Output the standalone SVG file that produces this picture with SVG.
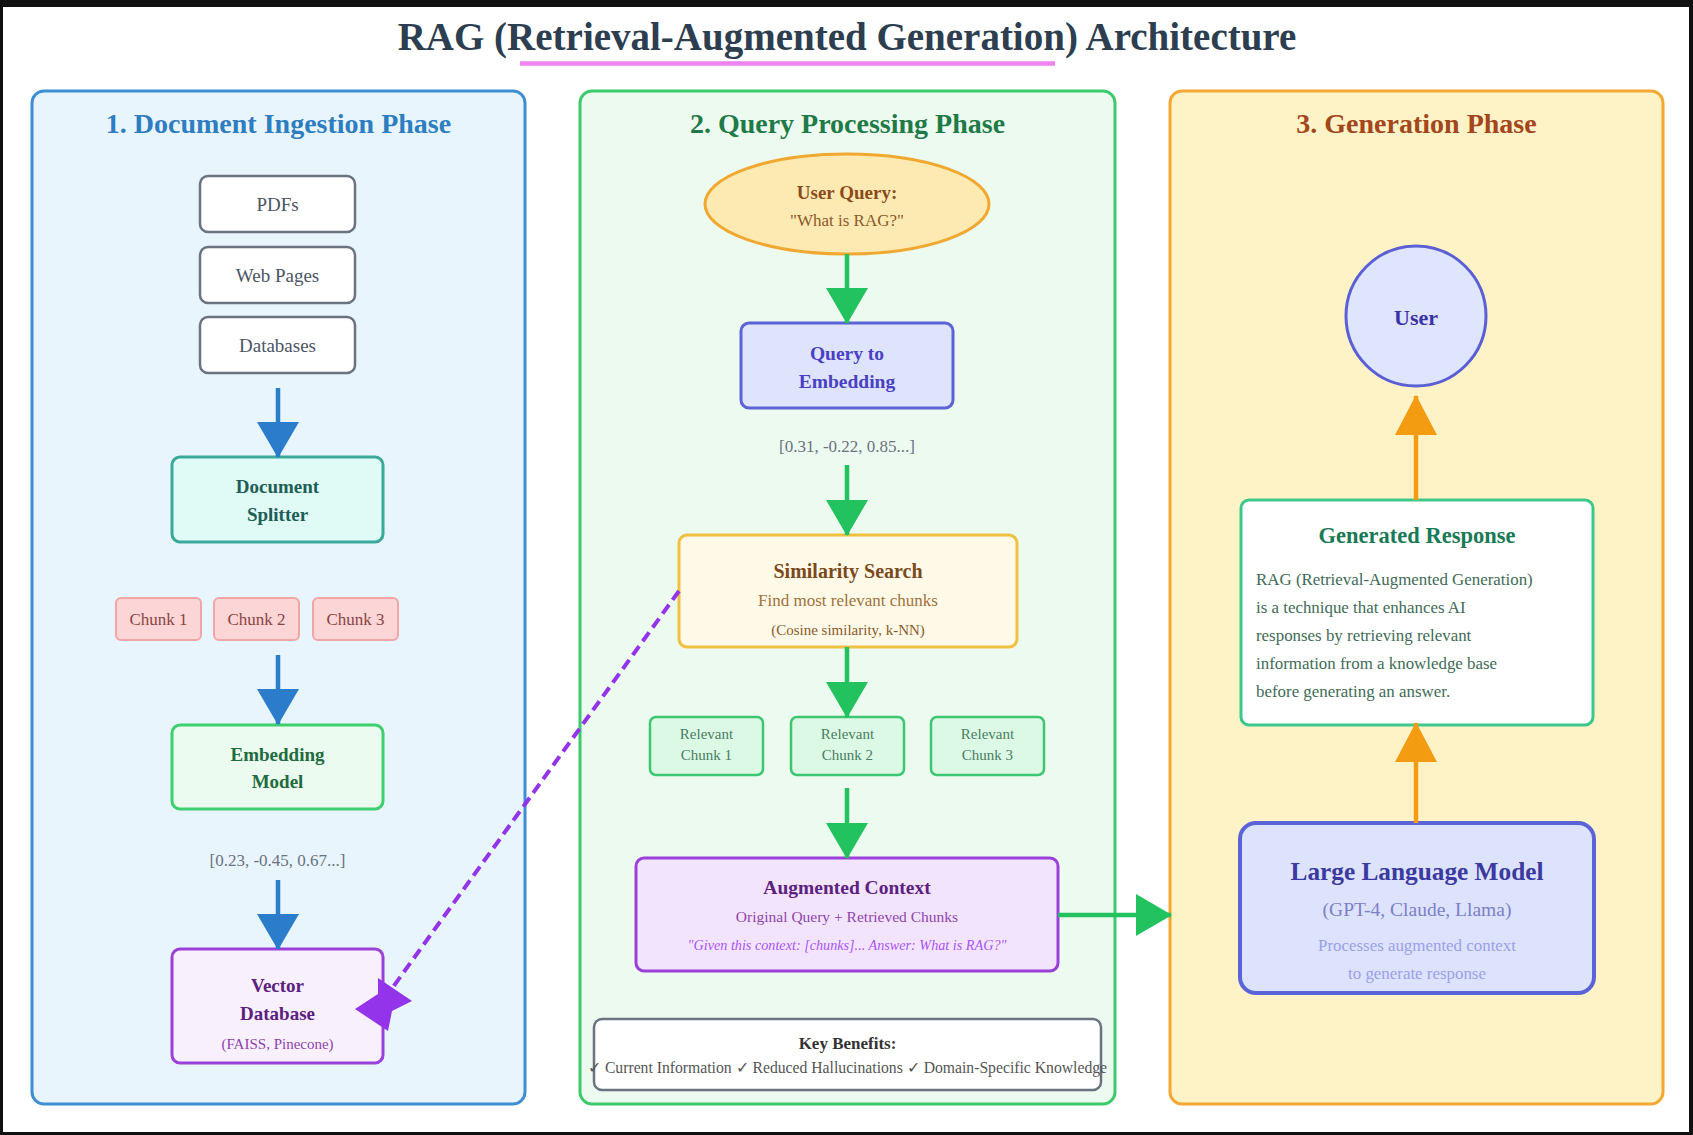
<svg xmlns="http://www.w3.org/2000/svg" width="1693" height="1135" viewBox="0 0 1693 1135">
<style>
text{font-family:"Liberation Serif","Times New Roman",serif;text-anchor:middle}
.b{font-weight:bold}
.panel{stroke-width:3}
.src rect{fill:#ffffff;stroke:#6b7280;stroke-width:2.5}
.src text{font-size:19px;fill:#4b5563}
.chunk rect{fill:#fcd6d6;stroke:#f2a5a5;stroke-width:2}
.chunk text{font-size:17px;fill:#8a4444}
.rel rect{fill:#dcf9e5;stroke:#3cc870;stroke-width:2.5}
.rel text{font-size:15px;fill:#4a7d63}
.vec{font-size:17px;fill:#6b7280}
.ab{stroke-width:4.5;fill:none}
.gr{font-size:16.9px;fill:#3f6b58;text-anchor:start}
</style>
<defs>
<marker id="hb" markerUnits="userSpaceOnUse" markerWidth="36" markerHeight="42" viewBox="0 0 36 42" refX="35" refY="21" orient="auto"><path d="M0,0 L36,21 L0,42 Z" fill="#2b7ccb"/></marker>
<marker id="hg" markerUnits="userSpaceOnUse" markerWidth="36" markerHeight="42" viewBox="0 0 36 42" refX="35" refY="21" orient="auto"><path d="M0,0 L36,21 L0,42 Z" fill="#22c25e"/></marker>
<marker id="ho" markerUnits="userSpaceOnUse" markerWidth="40" markerHeight="42" viewBox="0 0 40 42" refX="39" refY="21" orient="auto"><path d="M0,0 L40,21 L0,42 Z" fill="#f39c12"/></marker>
</defs>

<rect x="0" y="0" width="1693" height="1135" fill="#111111"/>
<rect x="3" y="7" width="1686" height="1125" fill="#ffffff"/>

<g id="title">
<text x="847" y="50" class="b" style="font-size:39px;fill:#2c3e50">RAG (Retrieval-Augmented Generation) Architecture</text>
<line x1="520" y1="63.5" x2="1055" y2="63.5" stroke="#ee82ee" stroke-width="4.5"/>
</g>

<g id="panel-ingestion">
<rect class="panel" x="32" y="91" width="493" height="1013" rx="12" fill="#e8f5fd" stroke="#3d8fd1"/>
<text x="278.5" y="133" class="b" style="font-size:28px;fill:#2e7dc1">1. Document Ingestion Phase</text>
</g>
<g id="panel-query">
<rect class="panel" x="580" y="91" width="535" height="1013" rx="12" fill="#edfaf0" stroke="#3ccb6c"/>
<text x="847.5" y="133" class="b" style="font-size:28px;fill:#1f7a48">2. Query Processing Phase</text>
</g>
<g id="panel-generation">
<rect class="panel" x="1170" y="91" width="493" height="1013" rx="12" fill="#fef3c7" stroke="#f2a833"/>
<text x="1416.5" y="133" class="b" style="font-size:28px;fill:#a3461c">3. Generation Phase</text>
</g>

<g id="pdfs" class="src"><rect x="200" y="176" width="155" height="56" rx="8"/><text x="277.5" y="210.5">PDFs</text></g>
<g id="webpages" class="src"><rect x="200" y="247" width="155" height="56" rx="8"/><text x="277.5" y="281.5">Web Pages</text></g>
<g id="databases" class="src"><rect x="200" y="317" width="155" height="56" rx="8"/><text x="277.5" y="351.5">Databases</text></g>

<g id="doc-splitter">
<rect x="172" y="457" width="211" height="85" rx="8" fill="#e0faf5" stroke="#3aa999" stroke-width="3"/>
<text x="277.5" y="493" class="b" style="font-size:19px;fill:#1e5e56">Document</text>
<text x="277.5" y="521" class="b" style="font-size:19px;fill:#1e5e56">Splitter</text>
</g>

<g id="chunk1" class="chunk"><rect x="116" y="598" width="85" height="42" rx="5"/><text x="158.5" y="625">Chunk 1</text></g>
<g id="chunk2" class="chunk"><rect x="214" y="598" width="85" height="42" rx="5"/><text x="256.5" y="625">Chunk 2</text></g>
<g id="chunk3" class="chunk"><rect x="313" y="598" width="85" height="42" rx="5"/><text x="355.5" y="625">Chunk 3</text></g>

<g id="embedding-model">
<rect x="172" y="725" width="211" height="84" rx="8" fill="#ecfbf0" stroke="#3ecf6e" stroke-width="3"/>
<text x="277.5" y="761" class="b" style="font-size:19px;fill:#226b3e">Embedding</text>
<text x="277.5" y="788" class="b" style="font-size:19px;fill:#226b3e">Model</text>
</g>

<g id="doc-vector"><text x="277.5" y="866" class="vec">[0.23, -0.45, 0.67...]</text></g>

<g id="vector-db">
<rect x="172" y="949" width="211" height="114" rx="8" fill="#f8f0fd" stroke="#9b40d8" stroke-width="3"/>
<text x="277.5" y="992" class="b" style="font-size:19px;fill:#5b2180">Vector</text>
<text x="277.5" y="1020" class="b" style="font-size:19px;fill:#5b2180">Database</text>
<text x="277.5" y="1049" style="font-size:15px;fill:#8e44ad">(FAISS, Pinecone)</text>
</g>

<g id="user-query">
<ellipse cx="847" cy="204" rx="142" ry="50" fill="#fdeab3" stroke="#f0a830" stroke-width="3"/>
<text x="847" y="198.5" class="b" style="font-size:19px;fill:#8b4a1c">User Query:</text>
<text x="847" y="226" style="font-size:17px;fill:#8b5a2b">"What is RAG?"</text>
</g>

<g id="query-embedding">
<rect x="741" y="323" width="212" height="85" rx="8" fill="#dde4fc" stroke="#5b63d6" stroke-width="3"/>
<text x="847" y="359.5" class="b" style="font-size:19.5px;fill:#4a3fc5">Query to</text>
<text x="847" y="387.5" class="b" style="font-size:19.5px;fill:#4a3fc5">Embedding</text>
</g>

<g id="query-vector"><text x="847" y="452" class="vec">[0.31, -0.22, 0.85...]</text></g>

<g id="similarity-search">
<rect x="679" y="535" width="338" height="112" rx="8" fill="#fffae8" stroke="#f0c040" stroke-width="3"/>
<text x="848" y="577.5" class="b" style="font-size:20px;fill:#7a4a1c">Similarity Search</text>
<text x="848" y="606" style="font-size:17px;fill:#a0703a">Find most relevant chunks</text>
<text x="848" y="634.5" style="font-size:15px;fill:#8b5a2b">(Cosine similarity, k-NN)</text>
</g>

<g id="relevant1" class="rel"><rect x="650" y="717" width="113" height="58" rx="6"/><text x="706.5" y="739">Relevant</text><text x="706.5" y="760">Chunk 1</text></g>
<g id="relevant2" class="rel"><rect x="791" y="717" width="113" height="58" rx="6"/><text x="847.5" y="739">Relevant</text><text x="847.5" y="760">Chunk 2</text></g>
<g id="relevant3" class="rel"><rect x="931" y="717" width="113" height="58" rx="6"/><text x="987.5" y="739">Relevant</text><text x="987.5" y="760">Chunk 3</text></g>

<g id="augmented-context">
<rect x="636" y="858" width="422" height="113" rx="8" fill="#f3e4fd" stroke="#9b40d8" stroke-width="3"/>
<text x="847" y="893.5" class="b" style="font-size:19.5px;fill:#5b2180">Augmented Context</text>
<text x="847" y="922" style="font-size:15.5px;fill:#8e44ad">Original Query + Retrieved Chunks</text>
<text x="847" y="950" style="font-size:14.2px;font-style:italic;fill:#a855f7">"Given this context: [chunks]... Answer: What is RAG?"</text>
</g>

<g id="key-benefits">
<rect x="594" y="1019" width="507" height="71" rx="8" fill="#ffffff" stroke="#6b7280" stroke-width="2.5"/>
<text x="847.5" y="1049" class="b" style="font-size:17px;fill:#333333">Key Benefits:</text>
<text x="847.5" y="1073" style="font-size:15.7px;fill:#555555">✓ Current Information ✓ Reduced Hallucinations ✓ Domain-Specific Knowledge</text>
</g>

<g id="user">
<circle cx="1416" cy="316" r="70" fill="#dfe5fd" stroke="#5b5fd6" stroke-width="3"/>
<text x="1416" y="324.5" class="b" style="font-size:22px;fill:#3b32a8">User</text>
</g>

<g id="generated-response">
<rect x="1241" y="500" width="352" height="225" rx="8" fill="#ffffff" stroke="#3cc88a" stroke-width="3"/>
<text x="1417" y="542.5" class="b" style="font-size:22.5px;fill:#1a7a55">Generated Response</text>
<text x="1256" y="585" class="gr">RAG (Retrieval-Augmented Generation)</text>
<text x="1256" y="613" class="gr">is a technique that enhances AI</text>
<text x="1256" y="641" class="gr">responses by retrieving relevant</text>
<text x="1256" y="669" class="gr">information from a knowledge base</text>
<text x="1256" y="697" class="gr">before generating an answer.</text>
</g>

<g id="llm">
<rect x="1240" y="823" width="354" height="170" rx="16" fill="#dde3fc" stroke="#5b63d8" stroke-width="4"/>
<text x="1417" y="880" class="b" style="font-size:25.3px;fill:#3b3aa0">Large Language Model</text>
<text x="1417" y="916" style="font-size:19.5px;fill:#7c80c8">(GPT-4, Claude, Llama)</text>
<text x="1417" y="951" style="font-size:16.9px;fill:#9aa0ea">Processes augmented context</text>
<text x="1417" y="979" style="font-size:16.9px;fill:#9aa0ea">to generate response</text>
</g>

<g id="connectors">
<line class="ab" x1="278" y1="388" x2="278" y2="457" stroke="#2b7ccb" marker-end="url(#hb)"/>
<line class="ab" x1="278" y1="655" x2="278" y2="724" stroke="#2b7ccb" marker-end="url(#hb)"/>
<line class="ab" x1="278" y1="880" x2="278" y2="949" stroke="#2b7ccb" marker-end="url(#hb)"/>
<line class="ab" x1="847" y1="254" x2="847" y2="323" stroke="#22c25e" marker-end="url(#hg)"/>
<line class="ab" x1="847" y1="465" x2="847" y2="535" stroke="#22c25e" marker-end="url(#hg)"/>
<line class="ab" x1="847" y1="647" x2="847" y2="717" stroke="#22c25e" marker-end="url(#hg)"/>
<line class="ab" x1="847" y1="788" x2="847" y2="858" stroke="#22c25e" marker-end="url(#hg)"/>
<line class="ab" x1="1058" y1="915" x2="1171" y2="915" stroke="#22c25e" marker-end="url(#hg)"/>
<line class="ab" x1="1416" y1="500" x2="1416" y2="396" stroke="#f39c12" marker-end="url(#ho)"/>
<line class="ab" x1="1416" y1="823" x2="1416" y2="723" stroke="#f39c12" marker-end="url(#ho)"/>
<line x1="679" y1="591" x2="393" y2="987" stroke="#9333ea" stroke-width="4" stroke-dasharray="11 6" fill="none"/>
<polygon points="355,1009 378,994 378,978 412,1001 392,1011 388,1031" fill="#9333ea"/>
</g>
</svg>
